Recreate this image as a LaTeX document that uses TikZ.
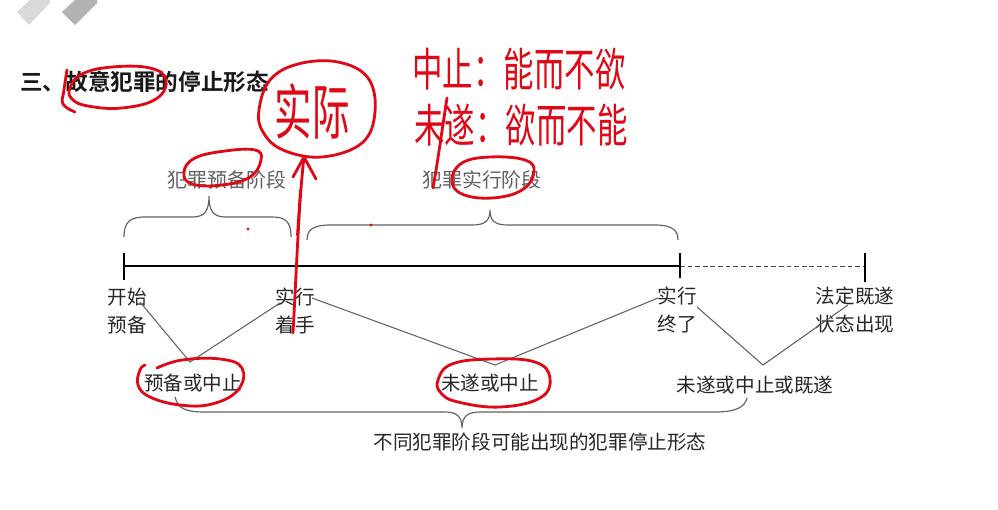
\documentclass[tikz,border=0pt]{standalone}
\usepackage{fontspec}
\setmainfont{Noto Sans CJK SC}[BoldFont={Noto Sans CJK SC Bold}]
\definecolor{pen}{RGB}{222,8,22}
\begin{document}
\begin{tikzpicture}[x=0.3mm,y=-0.3mm,
  lbl/.style={inner sep=0pt, align=center, font=\fontsize{16.7pt}{24pt}\selectfont, text=black!85},
  stage/.style={inner sep=0pt, font=\fontsize{17pt}{20pt}\selectfont, text=black!62},
  titlestyle/.style={inner sep=0pt, anchor=west, font=\fontsize{19.3pt}{22pt}\selectfont\bfseries, text=black!90},
  vline/.style={draw=black!62, line width=0.9pt},
  bracestyle/.style={draw=black!62, line width=1pt},
  redpen/.style={draw=pen, line width=2.4pt, line cap=round, line join=round},
  redtext/.style={text=pen, inner sep=0pt}
]
\useasboundingbox (0,0) rectangle (998,509);
% decorative chevrons
\fill[black!15] (17,12) -- (30,0) -- (50,0) -- (50,3) -- (29,25) -- cycle;
\fill[black!30] (62,12) -- (75,0) -- (97,0) -- (97,3) -- (75,25) -- cycle;

% title
\node[titlestyle] (title) at (20,82) {三、故意犯罪的停止形态};

% stage labels
\node[stage] (prep) at (227,180) {犯罪预备阶段};
\node[stage] (exec) at (482,180) {犯罪实行阶段};

% braces
\draw[bracestyle] (124,237) .. controls (124,222) and (130,217) .. (145,217) -- (192,217)
  .. controls (204,217) and (209,212) .. (209,196) .. controls (209,212) and (214,217) .. (226,217)
  -- (272,217) .. controls (286,217) and (291,222) .. (291,237);
\draw[bracestyle] (307,240) .. controls (307,230) and (313,225) .. (330,225) -- (472,225)
  .. controls (485,225) and (490,221) .. (490,210) .. controls (490,221) and (495,225) .. (508,225)
  -- (655,225) .. controls (672,225) and (678,230) .. (678,240);

% axis
\coordinate (t0) at (124,266);
\coordinate (t1) at (680,266);
\coordinate (t2) at (865,266);
\draw[line width=2.3pt] (t0) -- (t1);
\draw[black!70, line width=0.8pt, dash pattern=on 4pt off 2.5pt] (t1) -- (t2);
\draw[line width=1pt] (124,253) -- (124,280);
\draw[line width=1pt] (680,253) -- (680,278);
\draw[line width=1pt] (865,253) -- (865,282);

% point labels
\node[lbl] (start) at (127,311) {开始\\预备};
\node[lbl] (begin) at (295,311) {实行\\着手};
\node[lbl] (finish) at (677,310) {实行\\终了};
\node[lbl] (legal) at (855,310) {法定既遂\\状态出现};

% forms
\node[lbl] (f1) at (193,383) {预备或中止};
\node[lbl] (f2) at (490,383) {未遂或中止};
\node[lbl] (f3) at (755,385) {未遂或中止或既遂};
\node[lbl] (note) at (540,442) {不同犯罪阶段可能出现的犯罪停止形态};

% V connectors
\coordinate (v1a) at (140,302); \coordinate (v1b) at (190,362); \coordinate (v1c) at (280,303);
\coordinate (v2a) at (312,298); \coordinate (v2b) at (495,365); \coordinate (v2c) at (658,298);
\coordinate (v3a) at (697,307); \coordinate (v3b) at (763,365); \coordinate (v3c) at (848,305);
\draw[vline] (v1a) -- (v1b) -- (v1c);
\draw[vline] (v2a) -- (v2b) -- (v2c);
\draw[vline] (v3a) -- (v3b) -- (v3c);

% bottom brace
\draw[bracestyle] (175,397) .. controls (178,409) and (186,412) .. (205,412) -- (445,412)
  .. controls (456,412) and (462,416) .. (462,428) .. controls (462,416) and (468,412) .. (480,412)
  -- (715,412) .. controls (738,412) and (745,406) .. (747,398);

% ---- red handwritten annotations ----
% around 故意犯罪
\draw[redpen] plot[smooth cycle, tension=0.7] coordinates {(70,88) (82,74) (112,67) (150,68) (166,80) (156,99) (122,108) (88,106) (72,99)};
\draw[redpen] plot[smooth, tension=0.7] coordinates {(67,70) (64,90) (63,104) (75,112)};
% circle 实际
\draw[redpen] plot[smooth cycle, tension=0.65] coordinates {(259,110) (270,80) (298,64) (338,62) (368,78) (375,112) (362,143) (322,157) (283,150) (263,132)};
\node[redtext] (real) at (312,111) {\scalebox{1}[1.6]{\fontsize{32pt}{34pt}\selectfont 实际}};
% arrow
\draw[redpen] (293,333) .. controls (297,260) and (299,200) .. (304,157);
\draw[redpen, line width=1.5pt] (297,235) -- (300,190);
\draw[redpen] (293,177) -- (304,157) -- (316,179);
% notes
\node[redtext] (n1) at (519,69) {\scalebox{1}[1.5]{\fontsize{26pt}{28pt}\selectfont 中止：能而不欲}};
\node[redtext] (n2) at (521,125) {\scalebox{1}[1.5]{\fontsize{26pt}{28pt}\selectfont 未遂：欲而不能}};
\draw[redpen] (447,98) .. controls (442,130) and (438,160) .. (433,188);
% around 预备 (stage)
\draw[redpen] plot[smooth cycle, tension=0.7] coordinates {(184,172) (195,158) (225,151) (255,150) (261,160) (250,177) (222,185) (192,184)};
% around 实行 (stage)
\draw[redpen] plot[smooth cycle, tension=0.7] coordinates {(452,180) (462,163) (490,157) (525,160) (534,172) (522,190) (492,198) (462,194)};
% dots
\fill[pen] (248,229) circle (1.6);
\fill[pen] (371,225) circle (1.6);
% around 预备或中止
\draw[redpen] plot[smooth, tension=0.7] coordinates {(157,368) (182,360) (220,359) (242,368) (238,390) (212,404) (180,405) (150,397) (138,385) (140,370) (145,365)};
% around 未遂或中止
\draw[redpen] plot[smooth cycle, tension=0.7] coordinates {(438,380) (452,364) (492,359) (535,362) (550,378) (540,398) (500,407) (458,402) (441,393)};
\end{tikzpicture}
\end{document}
